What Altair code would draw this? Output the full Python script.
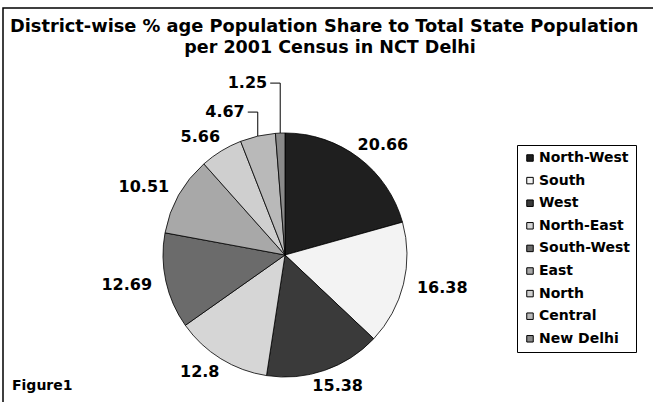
import altair as alt
import pandas as pd

# District shares of NCT Delhi's population (Census 2001), in drawing order
districts = ["North-West", "South", "West", "North-East", "South-West",
             "East", "North", "Central", "New Delhi"]
shares = [20.66, 16.38, 15.38, 12.8, 12.69, 10.51, 5.66, 4.67, 1.25]
fills = ["#1f1f1f", "#f3f3f3", "#3a3a3a", "#d6d6d6", "#6b6b6b",
         "#a8a8a8", "#cfcfcf", "#b9b9b9", "#8a8a8a"]

title_lines = ["District-wise % age Population Share to Total State Population",
               "per 2001 Census in NCT Delhi"]
caption = "Figure1"

W, H = 653, 402
CX, CY, R = 285, 255, 122
FONT = "DejaVu Sans"

df = pd.DataFrame({"idx": list(range(len(districts))),
                   "district": districts, "share": shares})
one = pd.DataFrame({"k": [0]})

# outer frame of the figure
frame = alt.Chart(one).mark_rect(fill="transparent", stroke="black", strokeWidth=1.5).encode(
    x=alt.value(3), y=alt.value(8), x2=alt.value(W + 20), y2=alt.value(H + 20)
)

pie = alt.Chart(df).mark_arc(outerRadius=R, stroke="black", strokeWidth=0.8).encode(
    theta=alt.Theta("share:Q", stack=True),
    order=alt.Order("idx:Q"),
    color=alt.Color(
        "district:N",
        sort=districts,
        scale=alt.Scale(domain=districts, range=fills),
        legend=alt.Legend(
            title=None, orient="none", legendX=517, legendY=145,
            symbolType="square", symbolSize=42,
            symbolStrokeColor="black", symbolStrokeWidth=1,
            labelFont=FONT, labelFontSize=14, labelFontWeight="bold",
            labelColor="black", labelOffset=2,
            rowPadding=8.6, padding=6,
            strokeColor="black", fillColor="white",
        ),
    ),
    x=alt.value(CX), y=alt.value(CY),
)

# mid-angle of each slice, measured clockwise from 12 o'clock
geo = alt.Chart(df).transform_joinaggregate(
    total="sum(share)"
).transform_window(
    cum="sum(share)", sort=[alt.SortField("idx", order="ascending")], frame=[None, 0]
).transform_calculate(
    mid="2 * PI * (datum.cum - datum.share / 2) / datum.total",
    label="'' + datum.share",
)

text_style = dict(font=FONT, fontSize=16, fontWeight="bold", color="black", baseline="middle")

big_labels = geo.transform_filter("datum.share >= 5").transform_calculate(
    lx=f"{CX} + {R + 40} * sin(datum.mid)",
    ly=f"{CY} - {R + 16} * cos(datum.mid)",
).mark_text(align="center", **text_style).encode(
    x=alt.X("lx:Q", scale=None), y=alt.Y("ly:Q", scale=None), text="label:N"
)

# thin slices get their label lifted above the pie on a leader line
small = geo.transform_filter("datum.share < 5").transform_calculate(
    rimx=f"{CX} + {R} * sin(datum.mid)",
    rimy=f"{CY} - {R} * cos(datum.mid)",
).transform_calculate(
    top="datum.rimy - (datum.share < 2 ? 50 : 24)",
    armx="datum.rimx - 10",
    tx="datum.rimx - 13",
)

leader_up = small.mark_rule(color="black", strokeWidth=1).encode(
    x=alt.X("rimx:Q", scale=None), y=alt.Y("rimy:Q", scale=None), y2="top:Q"
)
leader_arm = small.mark_rule(color="black", strokeWidth=1).encode(
    x=alt.X("armx:Q", scale=None), x2="rimx:Q", y=alt.Y("top:Q", scale=None)
)
small_labels = small.mark_text(align="right", **text_style).encode(
    x=alt.X("tx:Q", scale=None), y=alt.Y("top:Q", scale=None), text="label:N"
)

title_style = dict(font=FONT, fontWeight="bold", baseline="middle", color="black")
title1 = alt.Chart(one).mark_text(
    text=title_lines[0], align="left", fontSize=17.8, **title_style
).encode(x=alt.value(10), y=alt.value(27))
title2 = alt.Chart(one).mark_text(
    text=title_lines[1], align="center", fontSize=17.5, **title_style
).encode(x=alt.value(330), y=alt.value(48))
fig_caption = alt.Chart(one).mark_text(
    text=caption, font=FONT, fontSize=14, fontWeight="bold",
    align="left", baseline="middle", color="black"
).encode(x=alt.value(12), y=alt.value(386))

chart = alt.layer(
    frame, pie, big_labels, leader_up, leader_arm, small_labels,
    title1, title2, fig_caption
).properties(
    width=W, height=H, padding=0,
    autosize=alt.AutoSizeParams(type="none"),
).configure_view(stroke=None)

chart.save("out.html", embed_options={"renderer": "svg", "actions": False})
